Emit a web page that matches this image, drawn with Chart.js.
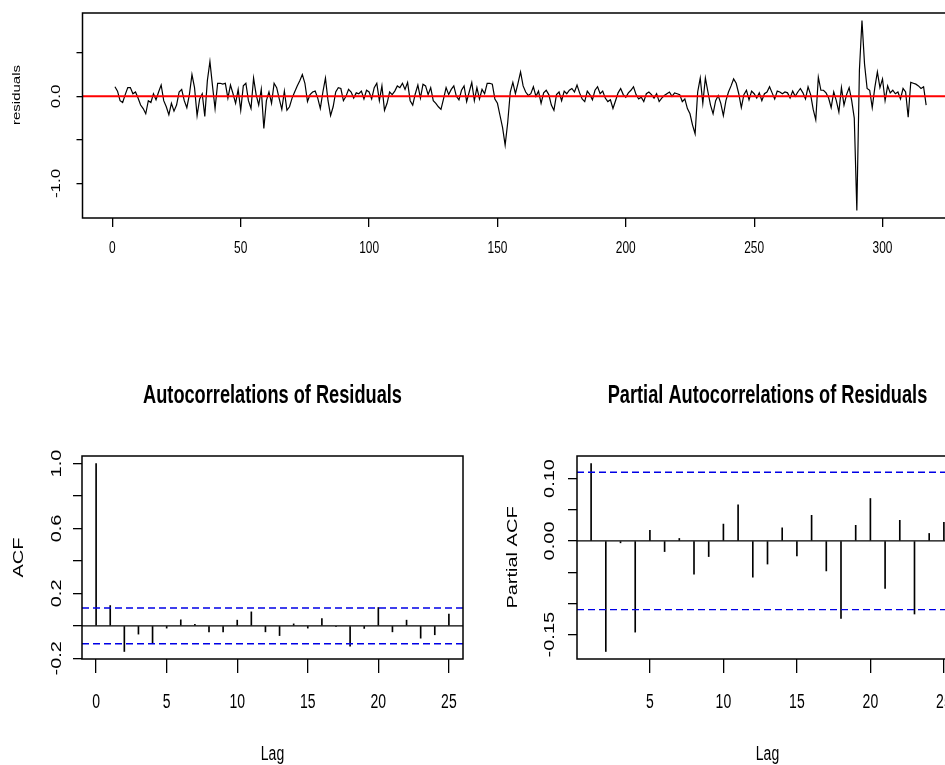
<!DOCTYPE html>
<html>
<head>
<meta charset="utf-8">
<script src="https://cdn.jsdelivr.net/npm/chart.js@4.4.0/dist/chart.umd.min.js"></script>
<style>
html, body { margin: 0; padding: 0; background: #fff; overflow: hidden; width: 945px; height: 765px; }
canvas { position: absolute; }
</style>
</head>
<body>
<canvas id="res" width="970" height="300" style="left:0;top:0"></canvas>
<canvas id="acf" width="480" height="405" style="left:0;top:360px"></canvas>
<canvas id="pacf" width="490" height="405" style="left:480px;top:360px"></canvas>
<script>
// residual series (t = 1..317)
const residuals = [
  0.11, 0.06, -0.05, -0.07, 0.02, 0.10, 0.10, 0.03, 0.05, -0.02,
  -0.10, -0.14, -0.20, -0.05, -0.07, 0.03, -0.04, 0.05, 0.13, -0.05,
  -0.12, -0.21, -0.08, -0.17, -0.10, 0.05, 0.08, -0.05, -0.13, 0.02,
  0.25, 0.10, -0.22, -0.03, 0.03, -0.23, 0.18, 0.40, 0.12, -0.14,
  0.15, 0.15, 0.14, 0.15, -0.02, 0.13, 0.03, -0.08, 0.08, -0.16,
  0.12, 0.15, -0.05, -0.14, 0.21, 0.02, -0.10, 0.08, -0.37, -0.05,
  0.05, -0.08, 0.15, 0.10, -0.03, -0.15, 0.06, -0.16, -0.12, -0.02,
  0.05, 0.12, 0.18, 0.25, 0.15, -0.06, 0.02, 0.05, 0.06, -0.02,
  -0.14, 0.05, 0.21, -0.05, -0.22, -0.12, 0.05, 0.10, 0.09, -0.05,
  0.00, 0.08, 0.05, -0.02, 0.04, 0.03, 0.06, -0.03, 0.07, 0.05,
  -0.03, 0.10, 0.15, -0.05, 0.12, -0.16, -0.08, 0.05, 0.02, 0.06,
  0.12, 0.10, 0.15, 0.08, 0.16, -0.05, -0.10, 0.03, 0.13, -0.02,
  0.14, 0.12, 0.02, 0.10, -0.05, -0.08, -0.12, -0.15, -0.03, 0.10,
  0.02, 0.08, 0.12, 0.00, -0.04, 0.07, 0.12, -0.06, 0.05, 0.16,
  -0.05, 0.10, -0.03, 0.08, 0.03, 0.15, 0.15, 0.14, -0.03, -0.08,
  -0.22, -0.36, -0.56, -0.30, 0.05, 0.16, 0.03, 0.15, 0.28, 0.12,
  0.05, 0.01, 0.03, 0.11, 0.00, 0.06, -0.08, 0.04, 0.07, 0.02,
  -0.10, -0.16, 0.02, 0.05, -0.05, 0.06, 0.03, 0.07, 0.09, 0.05,
  0.13, 0.04, -0.03, -0.06, 0.06, 0.02, -0.04, 0.07, 0.11, 0.03,
  0.06, -0.02, -0.06, -0.04, -0.14, -0.05, 0.04, 0.09, 0.02, -0.01,
  0.04, 0.07, 0.11, 0.02, -0.03, -0.01, -0.06, 0.03, 0.05, 0.02,
  -0.02, 0.03, -0.06, -0.02, 0.01, 0.03, 0.05, 0.00, 0.04, 0.03,
  0.02, -0.06, -0.03, -0.14, -0.20, -0.33, -0.43, 0.05, 0.21, -0.08,
  0.21, 0.05, -0.10, -0.20, -0.05, 0.01, -0.08, -0.22, -0.05, 0.05,
  0.12, 0.20, 0.15, 0.03, -0.13, 0.02, 0.07, -0.04, 0.06, 0.03,
  -0.02, 0.04, -0.05, 0.03, 0.05, 0.11, 0.04, -0.03, 0.06, 0.05,
  0.03, 0.05, 0.04, -0.02, 0.06, 0.00, 0.05, 0.09, 0.04, -0.03,
  0.11, 0.02, -0.15, -0.27, 0.22, 0.07, 0.07, 0.04, -0.02, -0.13,
  0.05, -0.05, -0.18, 0.10, -0.10, 0.02, 0.10, -0.05, -0.25, -1.31,
  0.30, 0.87, 0.37, 0.09, 0.07, -0.13, 0.10, 0.28, 0.10, 0.20,
  -0.05, 0.12, 0.04, 0.07, 0.03, 0.05, -0.03, 0.09, 0.05, -0.24,
  0.16, 0.15, 0.14, 0.12, 0.09, 0.11, -0.10
];

const acfLags = [0, 1, 2, 3, 4, 5, 6, 7, 8, 9, 10, 11, 12, 13, 14, 15, 16, 17, 18, 19, 20, 21, 22, 23, 24, 25];
const acfValues = [1.0, 0.125, -0.158, -0.051, -0.105, -0.014, 0.037, 0.010, -0.037, -0.037, 0.035, 0.086, -0.037,
  -0.060, 0.012, -0.014, 0.045, -0.005, -0.125, -0.016, 0.113, -0.037, 0.035, -0.076, -0.055, 0.072];

const pacfLags = [1, 2, 3, 4, 5, 6, 7, 8, 9, 10, 11, 12, 13, 14, 15, 16, 17, 18, 19, 20, 21, 22, 23, 24, 25];
const pacfValues = [0.124, -0.177, -0.003, -0.146, 0.017, -0.017, 0.004, -0.053, -0.025, 0.027, 0.058, -0.058,
  -0.037, 0.021, -0.024, 0.041, -0.048, -0.124, 0.025, 0.068, -0.076, 0.033, -0.117, 0.012, 0.030];

const ciBound = 0.110;

const resXTicks = [0, 50, 100, 150, 200, 250, 300];
const resYTicks = [-1, -0.5, 0, 0.5];
const resYLabels = ['-1.0', '', '0.0', ''];
const acfXTicks = [0, 5, 10, 15, 20, 25];
const acfYTicks = [-0.2, 0, 0.2, 0.4, 0.6, 0.8, 1.0];
const acfYLabels = ['-0.2', '', '0.2', '', '0.6', '', '1.0'];
const pacfXTicks = [5, 10, 15, 20, 25];
const pacfYTicks = [-0.15, -0.10, -0.05, 0, 0.05, 0.10];
const pacfYLabels = ['-0.15', '', '', '0.00', '', '0.10'];

const SQ = 0.7; // the picture is squeezed sideways, text too
const FONT = '"Liberation Sans", Arial, Helvetica, sans-serif';

// R style axis range: data range plus 4% each side
function rRange(vals) {
  const lo = Math.min(...vals), hi = Math.max(...vals), d = (hi - lo) * 0.04;
  return [lo - d, hi + d];
}

function txt(ctx, s, x, y, size, bold, rot) {
  ctx.save();
  ctx.translate(x, y);
  ctx.scale(SQ, 1);
  if (rot) ctx.rotate(-Math.PI / 2);
  ctx.font = (bold ? 'bold ' : '') + size + 'px ' + FONT;
  ctx.fillStyle = '#000';
  ctx.textAlign = 'center';
  ctx.textBaseline = 'middle';
  ctx.fillText(s, 0, 0);
  ctx.restore();
}

const rFrame = {
  id: 'rFrame',
  afterDraw(chart, args, o) {
    const ctx = chart.ctx, a = chart.chartArea, x = chart.scales.x, y = chart.scales.y;
    ctx.save();
    ctx.strokeStyle = '#000';
    ctx.lineWidth = 1.5;
    ctx.strokeRect(a.left, a.top, a.right - a.left, a.bottom - a.top);
    ctx.restore();
    o.xTicks.forEach(v => txt(ctx, String(v), x.getPixelForValue(v), o.xLabelY, o.size));
    o.yTicks.forEach((v, i) => {
      if (o.yLabels[i]) txt(ctx, o.yLabels[i], o.yLabelX, y.getPixelForValue(v), o.size, false, true);
    });
    const cx = (a.left + a.right) / 2, cy = (a.top + a.bottom) / 2;
    if (o.title) txt(ctx, o.title, cx, o.titleY, 26, true);
    if (o.xTitle) txt(ctx, o.xTitle, cx, o.xTitleY, 20);
    if (o.yTitle) txt(ctx, o.yTitle, o.yTitleX, o.yTitleCY || cy, o.yTitleSize, false, true);
  }
};

function linScale(range, ticks, tickLen, fitSize, horizontal) {
  return {
    type: 'linear', min: range[0], max: range[1], offset: false,
    afterBuildTicks: s => { s.ticks = ticks.map(v => ({ value: v })); },
    afterFit: s => { if (horizontal) s.height = fitSize; else s.width = fitSize; },
    grid: { display: true, offset: false, drawOnChartArea: false, drawTicks: true, tickLength: tickLen, color: '#000', lineWidth: 1.3 },
    border: { display: false },
    ticks: { display: false }
  };
}

function hLine(xr, yv, color, width, dash) {
  return {
    type: 'line', data: [{ x: xr[0], y: yv }, { x: xr[1], y: yv }],
    borderColor: color, borderWidth: width, borderDash: dash || [], pointRadius: 0, order: 0
  };
}

// top: residuals over time
const resX = rRange([1, residuals.length]);
const resY = rRange(residuals);
new Chart(document.getElementById('res'), {
  type: 'line',
  data: {
    datasets: [
      { data: residuals.map((v, i) => ({ x: i + 1, y: v })), borderColor: '#000', borderWidth: 1.2, pointRadius: 0, tension: 0, order: 1 },
      hLine(resX, 0, '#ff0000', 2)
    ]
  },
  options: {
    responsive: false, animation: false, events: [],
    layout: { padding: { left: 0, top: 13, right: 970 - 958.6, bottom: 0 } },
    scales: { x: linScale(resX, resXTicks, 9, 82, true), y: linScale(resY, resYTicks, 6, 82.5, false) },
    plugins: {
      legend: { display: false }, tooltip: { enabled: false },
      rFrame: { xTicks: resXTicks, yTicks: resYTicks, yLabels: resYLabels, size: 17, xLabelY: 248, yLabelX: 57,
        yTitle: 'residuals', yTitleX: 17, yTitleCY: 95, yTitleSize: 15 }
    }
  },
  plugins: [rFrame]
});

function corrChart(id, lags, vals, xr, xTicks, yTicks, yLabels, L, R, title, yTitle, yLabelX, yTitleX) {
  const yr = rRange(vals.concat([ciBound, -ciBound]));
  return new Chart(document.getElementById(id), {
    type: 'bar',
    data: {
      datasets: [
        { type: 'bar', data: lags.map((l, i) => ({ x: l, y: vals[i] })), backgroundColor: '#000', barThickness: 1, order: 1 },
        hLine(xr, 0, '#000', 1.3),
        hLine(xr, ciBound, '#0000e6', 1.4, [7, 4]),
        hLine(xr, -ciBound, '#0000e6', 1.4, [7, 4])
      ]
    },
    options: {
      responsive: false, animation: false, events: [],
      layout: { padding: { left: 0, top: 96, right: R, bottom: 0 } },
      scales: { x: linScale(xr, xTicks, 14, 106, true), y: linScale(yr, yTicks, 9, L, false) },
      plugins: {
        legend: { display: false }, tooltip: { enabled: false },
        rFrame: { xTicks: xTicks, yTicks: yTicks, yLabels: yLabels, size: 20, xLabelY: 342, yLabelX: yLabelX,
          title: title, titleY: 36, xTitle: 'Lag', xTitleY: 394, yTitle: yTitle, yTitleX: yTitleX, yTitleSize: 20 }
      }
    },
    plugins: [rFrame]
  });
}

corrChart('acf', acfLags, acfValues, rRange([acfLags[0], acfLags[acfLags.length - 1]]), acfXTicks, acfYTicks, acfYLabels,
  82, 17, 'Autocorrelations of Residuals', 'ACF', 57, 19);
corrChart('pacf', pacfLags, pacfValues, rRange([pacfLags[0], pacfLags[pacfLags.length - 1]]), pacfXTicks, pacfYTicks, pacfYLabels,
  97, 12, 'Partial Autocorrelations of Residuals', 'Partial ACF', 70, 33);
</script>
</body>
</html>
